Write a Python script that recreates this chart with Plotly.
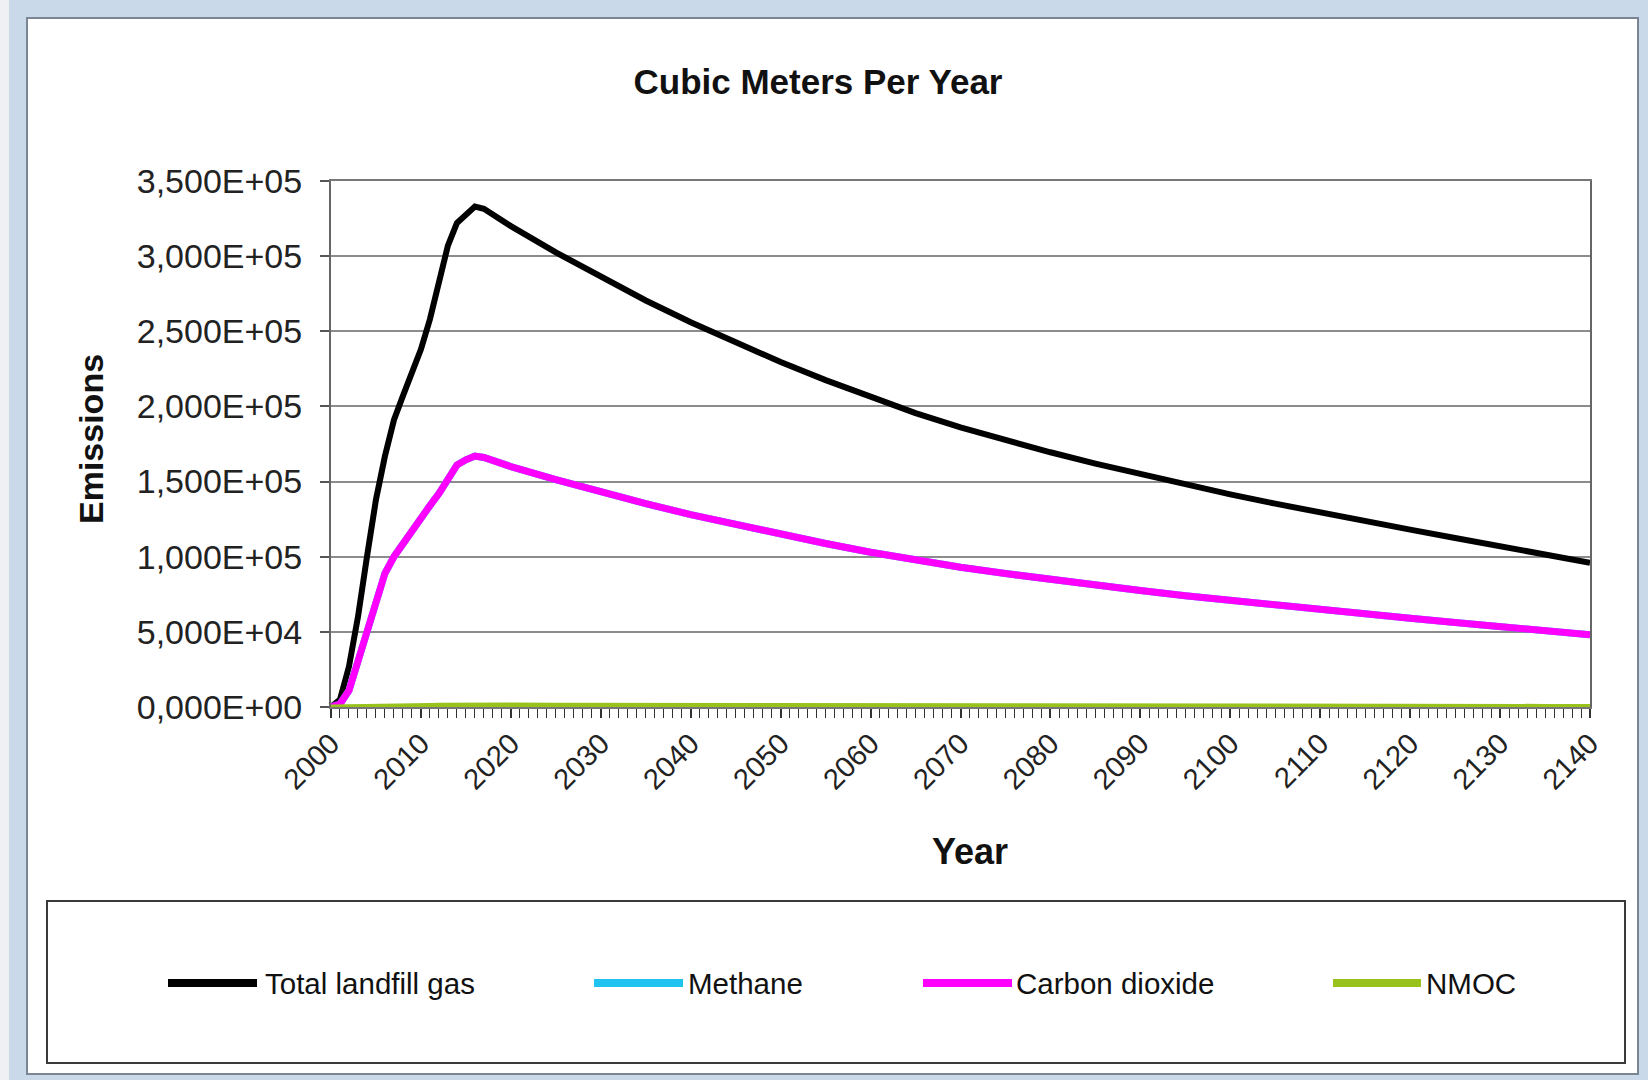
import plotly.graph_objects as go

# ---------------- data ----------------
YEARS = [2000, 2001, 2002, 2003, 2004, 2005, 2006, 2007, 2008, 2009, 2010,
         2011, 2012, 2013, 2014, 2015, 2016, 2017, 2018, 2019, 2020,
         2025, 2030, 2035, 2040, 2045, 2050, 2055, 2060, 2065, 2070,
         2075, 2080, 2085, 2090, 2095, 2100, 2105, 2110, 2115, 2120,
         2125, 2130, 2135, 2140]

TOTAL_LANDFILL_GAS = [0, 5000, 27000, 60000, 100000, 138000, 167000, 191000, 207000, 222000, 238000,
                      258000, 282000, 307000, 322000, 327000, 333000, 331500, 327500, 324000, 320000,
                      302500, 286000, 270500, 256000, 242500, 229500, 217500, 206000, 195500, 186000,
                      177500, 169500, 162000, 155000, 148000, 141500, 135300, 129300, 123500, 118000,
                      112500, 107000, 101500, 96000]

METHANE = [0, 2000, 11000, 31000, 53000, 72000, 89000, 100000, 109000, 116000, 126000,
           134000, 142000, 151000, 161000, 164500, 167000, 166000, 164000, 162000, 160000,
           151300, 143000, 135300, 128000, 121300, 114800, 108800, 103000, 97800, 93000,
           88800, 84800, 81000, 77500, 74000, 70800, 67700, 64700, 61800, 59000,
           56300, 53500, 50800, 48000]

CARBON_DIOXIDE = [0, 2000, 11000, 31000, 53000, 72000, 89000, 100000, 109000, 116000, 126000,
                  134000, 142000, 151000, 161000, 164500, 167000, 166000, 164000, 162000, 160000,
                  151300, 143000, 135300, 128000, 121300, 114800, 108800, 103000, 97800, 93000,
                  88800, 84800, 81000, 77500, 74000, 70800, 67700, 64700, 61800, 59000,
                  56300, 53500, 50800, 48000]

NMOC = [0, 20, 110, 250, 410, 560, 670, 760, 830, 890, 950,
        1030, 1130, 1230, 1290, 1310, 1330, 1320, 1310, 1290, 1280,
        1210, 1140, 1080, 1020, 970, 920, 870, 820, 780, 740,
        710, 680, 650, 620, 590, 560, 540, 520, 490, 470,
        450, 420, 400, 380]

SERIES_NAMES = ["Total landfill gas", "Methane", "Carbon dioxide", "NMOC"]

Y_TICK_VALUES = [0, 50000, 100000, 150000, 200000, 250000, 300000, 350000]
Y_TICK_LABELS = ["0,000E+00", "5,000E+04", "1,000E+05", "1,500E+05",
                 "2,000E+05", "2,500E+05", "3,000E+05", "3,500E+05"]
X_TICK_VALUES = [2000, 2010, 2020, 2030, 2040, 2050, 2060, 2070,
                 2080, 2090, 2100, 2110, 2120, 2130, 2140]

TITLE = "Cubic Meters Per Year"
X_TITLE = "Year"
Y_TITLE = "Emissions"

# ---------------- styling / layout ----------------
W, H = 1648, 1080
L, R, T, B = 331, 58, 181, 373          # plot area: x 331..1590, y 181..707
PW, PH = W - L - R, H - T - B

def px(x):   # figure pixel x -> paper x
    return (x - L) / PW

def py(y):   # figure pixel y -> paper y
    return (H - B - y) / PH

FONT = "Liberation Sans, Arial, Helvetica, sans-serif"
styles = {
    "Total landfill gas": dict(color="#000000", width=6),
    "Methane": dict(color="#1ec3f0", width=7),
    "Carbon dioxide": dict(color="#ff00ff", width=7),
    "NMOC": dict(color="#99c21c", width=5),
}
series_values = {
    "Total landfill gas": TOTAL_LANDFILL_GAS,
    "Methane": METHANE,
    "Carbon dioxide": CARBON_DIOXIDE,
    "NMOC": NMOC,
}

fig = go.Figure()
for name in SERIES_NAMES:
    fig.add_trace(go.Scatter(
        x=YEARS, y=series_values[name], mode="lines", name=name,
        line=dict(color=styles[name]["color"], width=styles[name]["width"]),
        showlegend=False, hoverinfo="x+y+name",
    ))

shapes = []
# left spreadsheet strip
shapes.append(dict(type="rect", xref="paper", yref="paper", layer="below",
                   x0=px(0), x1=px(9), y0=py(H), y1=py(0),
                   fillcolor="#eef0f3", line=dict(width=0)))
# chart area (white) with gray border
shapes.append(dict(type="rect", xref="paper", yref="paper", layer="below",
                   x0=px(27), x1=px(1638), y0=py(1074), y1=py(18),
                   fillcolor="#ffffff", line=dict(color="#7a8694", width=2)))
# legend box
shapes.append(dict(type="rect", xref="paper", yref="paper", layer="below",
                   x0=px(47), x1=px(1625), y0=py(1063), y1=py(901),
                   fillcolor="#ffffff", line=dict(color="#3a3a3a", width=2)))

# custom legend (long line samples like the original)
legend_items = [
    ("Total landfill gas", 168, 257, 263),
    ("Methane", 594, 683, 686),
    ("Carbon dioxide", 923, 1012, 1014),
    ("NMOC", 1333, 1421, 1424),
]
annotations = []
legend_y = 983
for name, x0, x1, xt in legend_items:
    shapes.append(dict(type="line", xref="paper", yref="paper", layer="above",
                       x0=px(x0), x1=px(x1), y0=py(legend_y), y1=py(legend_y),
                       line=dict(color=styles[name]["color"], width=8)))
    annotations.append(dict(text=name, xref="paper", yref="paper",
                            x=px(xt), y=py(legend_y), xanchor="left", yanchor="middle",
                            showarrow=False, font=dict(family=FONT, size=29.5, color="#111111")))

# axis titles
annotations.append(dict(text="<b>%s</b>" % Y_TITLE, xref="paper", yref="paper",
                        x=px(91), y=py(439), textangle=-90, showarrow=False,
                        xanchor="center", yanchor="middle",
                        font=dict(family=FONT, size=34, color="#111111")))
annotations.append(dict(text="<b>%s</b>" % X_TITLE, xref="paper", yref="paper",
                        x=px(970), y=py(851), showarrow=False,
                        xanchor="center", yanchor="middle",
                        font=dict(family=FONT, size=36, color="#111111")))

fig.update_layout(
    width=W, height=H,
    margin=dict(l=L, r=R, t=T, b=B, autoexpand=False),
    paper_bgcolor="#c9d9e9",
    plot_bgcolor="#ffffff",
    title=dict(text="<b>%s</b>" % TITLE, x=818 / W, xref="container", xanchor="center",
               y=1 - 82 / H, yref="container", yanchor="middle",
               font=dict(family=FONT, size=35, color="#111111")),
    shapes=shapes,
    annotations=annotations,
    showlegend=False,
    xaxis=dict(
        range=[2000, 2140], tickmode="array", tickvals=X_TICK_VALUES,
        ticktext=[str(v) for v in X_TICK_VALUES], tickangle=-45,
        ticks="outside", ticklen=9, tickwidth=1.5, tickcolor="#333333",
        minor=dict(dtick=1, ticks="outside", ticklen=9, tickwidth=1.2, tickcolor="#333333"),
        showgrid=False, zeroline=False,
        showline=True, linecolor="#777777", linewidth=2, mirror=True,
        tickfont=dict(family=FONT, size=29, color="#222222"),
        ticklabelstandoff=-3,
    ),
    yaxis=dict(
        range=[0, 350000], tickmode="array", tickvals=Y_TICK_VALUES, ticktext=Y_TICK_LABELS,
        ticks="outside", ticklen=9, tickwidth=1.5, tickcolor="#555555",
        showgrid=True, gridcolor="#8c8c8c", gridwidth=1.6, zeroline=False,
        showline=True, linecolor="#666666", linewidth=2, mirror=True,
        tickfont=dict(family=FONT, size=34, color="#222222"),
        ticklabelstandoff=11,
    ),
)

fig.write_html("out.html", config={"displayModeBar": False},
               post_script="document.body.style.margin='0px';document.body.style.overflow='hidden';")
